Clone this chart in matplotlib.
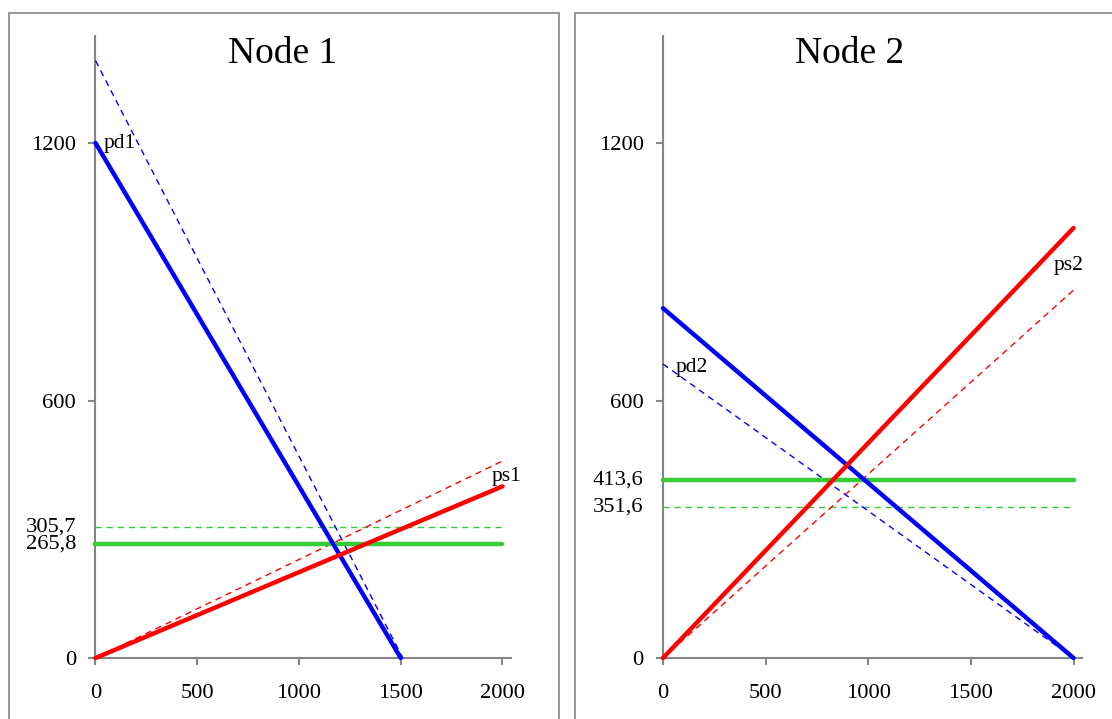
import matplotlib
matplotlib.use("Agg")
import matplotlib.pyplot as plt
from matplotlib.patches import Rectangle
from matplotlib.transforms import blended_transform_factory

plt.rcParams['font.family'] = ['Liberation Serif', 'DejaVu Serif']

# ---------------- data ----------------
titles = ["Node 1", "Node 2"]
x_ticks = [0, 500, 1000, 1500, 2000]
y_ticks = [0, 600, 1200]

# Node 1 (endpoints of each straight line: x values, y values)
pd1_x, pd1_y = [0, 1500], [1200, 0]
pd1_old_x, pd1_old_y = [0, 1510], [1392, 0]
ps1_x, ps1_y = [0, 2000], [0, 400]
ps1_old_x, ps1_old_y = [0, 2000], [0, 459]
price1_x = [0, 2000]
price1_new = 265.8
price1_old = 305.7

# Node 2
pd2_x, pd2_y = [0, 2000], [815, 0]
pd2_old_x, pd2_old_y = [0, 2000], [685, 0]
ps2_x, ps2_y = [0, 2000], [0, 1002]
ps2_old_x, ps2_old_y = [0, 2000], [0, 857]
price2_x = [0, 2000]
price2_new = 413.6
price2_old = 351.6

# labels: (text, x, y, ha)
labels1 = [("pd1", 40, 1200, "left"), ("ps1", 2020, 422, "center")]
labels2 = [("pd2", 60, 678, "left"), ("ps2", 1975, 915, "center")]
price_labels1 = ["305,7", "265,8"]
price_labels2 = ["413,6", "351,6"]

# ---------------- figure ----------------
W, H = 1112, 719
fig = plt.figure(figsize=(W / 100, H / 100), dpi=100)

GREY = "#868686"
BLUE = "#0000FF"
RED = "#FF0000"
GREEN = "#33CC33"
FS = 16.2

# panel borders (cropped at the bottom / right like the reference)
fig.patches.append(Rectangle((8.5 / W, -0.05), (559.5 - 8.5) / W, 1.05 - 12.5 / H,
                             transform=fig.transFigure, fill=False,
                             edgecolor=GREY, linewidth=1.2))
fig.patches.append(Rectangle((575.5 / W, -0.05), 0.6, 1.05 - 12.5 / H,
                             transform=fig.transFigure, fill=False,
                             edgecolor=GREY, linewidth=1.2))

XMAX = 2040
YMAX = 1450
y0_px = 658       # pixel row of y=0
y1200_px = 143    # pixel row of y=1200
ppu = (y0_px - y1200_px) / 1200.0
top_px = y0_px - YMAX * ppu


def make_axes(x0_px, x2000_px):
    xpu = (x2000_px - x0_px) / 2000.0
    left = x0_px / W
    width = XMAX * xpu / W
    bottom = (H - y0_px) / H
    height = (y0_px - top_px) / H
    return fig.add_axes([left, bottom, width, height])


ax1 = make_axes(95.5, 502.5)
ax2 = make_axes(663, 1073.5)


def style(ax):
    ax.set_xlim(0, XMAX)
    ax.set_ylim(0, YMAX)
    for s in ["top", "right"]:
        ax.spines[s].set_visible(False)
    for s in ["left", "bottom"]:
        ax.spines[s].set_color(GREY)
        ax.spines[s].set_linewidth(1.5)
    ax.set_xticks(x_ticks)
    ax.set_yticks(y_ticks)
    ax.set_xticklabels([str(v) for v in x_ticks])
    ax.set_yticklabels([str(v) for v in y_ticks])
    ax.tick_params(axis="x", direction="out", length=5, width=1.5, color=GREY,
                   labelsize=FS, pad=13.5)
    ax.tick_params(axis="y", direction="out", length=5, width=1.5, color=GREY,
                   labelsize=FS, pad=9)
    ax.patch.set_alpha(0)
    for sp in ax.spines.values():
        sp.set_zorder(1)


def draw(ax, pd, pd_old, ps, ps_old, px, p_new, p_old, labels, plabels, pvals):
    ax.plot(px, [p_old, p_old], color=GREEN, lw=1.0, ls=(0, (4.5, 3.5)),
            clip_on=False, zorder=3)
    ax.plot(ps_old[0], ps_old[1], color=RED, lw=1.0, ls=(0, (4.5, 3.5)),
            clip_on=False, zorder=3)
    ax.plot(pd_old[0], pd_old[1], color=BLUE, lw=1.0, ls=(0, (4.5, 3.5)),
            clip_on=False, zorder=3)
    ax.plot(px, [p_new, p_new], color=GREEN, lw=3.2, solid_capstyle="round",
            clip_on=False, zorder=4)
    ax.plot(pd[0], pd[1], color=BLUE, lw=3.2, solid_capstyle="round",
            clip_on=False, zorder=5)
    ax.plot(ps[0], ps[1], color=RED, lw=3.2, solid_capstyle="round",
            clip_on=False, zorder=6)
    for t, x, y, ha in labels:
        ax.text(x, y, t, ha=ha, va="center", fontsize=15.5, zorder=7)
    tr = blended_transform_factory(ax.transAxes, ax.transData)
    for t, v in zip(plabels, pvals):
        ax.text(-0.046, v, t, transform=tr, ha="right", va="center",
                fontsize=FS, clip_on=False)


style(ax1)
style(ax2)
draw(ax1, (pd1_x, pd1_y), (pd1_old_x, pd1_old_y), (ps1_x, ps1_y),
     (ps1_old_x, ps1_old_y), price1_x, price1_new, price1_old, labels1,
     price_labels1, [price1_old, price1_new])
draw(ax2, (pd2_x, pd2_y), (pd2_old_x, pd2_old_y), (ps2_x, ps2_y),
     (ps2_old_x, ps2_old_y), price2_x, price2_new, price2_old, labels2,
     price_labels2, [price2_new, price2_old])

fig.text(283 / W, 1 - 54 / H, titles[0], ha="center", va="center", fontsize=27)
fig.text(850 / W, 1 - 54 / H, titles[1], ha="center", va="center", fontsize=27)

fig.savefig("out.png", dpi=100)
